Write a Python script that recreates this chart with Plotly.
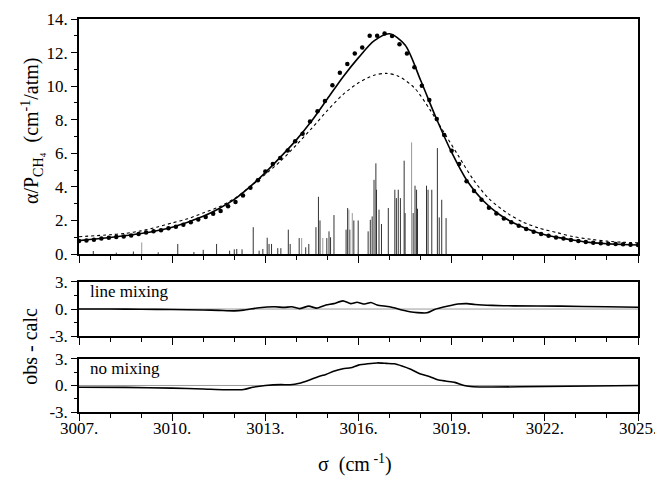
import plotly.graph_objects as go

# ---------------- data ----------------
obs_x = [3007.00, 3007.24, 3007.48, 3007.72, 3007.96, 3008.20, 3008.44, 3008.68, 3008.92, 3009.16,
         3009.40, 3009.64, 3009.88, 3010.12, 3010.36, 3010.60, 3010.84, 3011.08, 3011.32, 3011.56,
         3011.80, 3012.04, 3012.28, 3012.52, 3012.76, 3013.00, 3013.24, 3013.48, 3013.72, 3013.96,
         3014.20, 3014.44, 3014.68, 3014.92, 3015.16, 3015.40, 3015.64, 3015.88, 3016.12, 3016.36,
         3016.60, 3016.84, 3017.08, 3017.32, 3017.56, 3017.80, 3018.04, 3018.28, 3018.52, 3018.76,
         3019.00, 3019.24, 3019.48, 3019.72, 3019.96, 3020.20, 3020.44, 3020.68, 3020.92, 3021.16,
         3021.40, 3021.64, 3021.88, 3022.12, 3022.36, 3022.60, 3022.84, 3023.08, 3023.32, 3023.56,
         3023.80, 3024.04, 3024.28, 3024.52, 3024.76, 3025.00]
obs_y = [0.78, 0.81, 0.85, 0.92, 0.97, 1.01, 1.05, 1.11, 1.19, 1.28,
         1.35, 1.42, 1.53, 1.63, 1.75, 1.89, 2.05, 2.21, 2.40, 2.56,
         2.85, 3.10, 3.48, 3.95, 4.40, 4.92, 5.36, 5.72, 6.17, 6.72,
         7.16, 7.90, 8.50, 9.12, 10.05, 10.80, 11.32, 11.95, 12.30, 13.00,
         13.00, 13.14, 12.98, 12.49, 11.95, 11.12, 10.02, 9.17, 8.05, 7.09,
         6.15, 5.36, 4.33, 3.75, 3.24, 2.76, 2.42, 2.12, 1.89, 1.69,
         1.49, 1.33, 1.19, 1.09, 0.99, 0.93, 0.83, 0.77, 0.71, 0.67,
         0.64, 0.61, 0.60, 0.58, 0.55, 0.54]

mix_x = [3007.0, 3008.0, 3009.0, 3010.0, 3011.0, 3011.5, 3012.0, 3012.5, 3013.0, 3013.5,
         3014.0, 3014.5, 3015.0, 3015.5, 3016.0, 3016.5, 3017.0, 3017.5, 3018.0, 3018.5,
         3019.0, 3019.5, 3020.0, 3020.5, 3021.0, 3021.5, 3022.0, 3022.5, 3023.0, 3023.5,
         3024.0, 3024.5, 3025.0]
mix_y = [0.80, 0.98, 1.22, 1.60, 2.25, 2.70, 3.25, 4.00, 4.85, 5.80,
         6.80, 7.95, 9.25, 10.55, 11.70, 12.70, 13.12, 12.45, 10.35, 8.10,
         6.05, 4.35, 3.20, 2.40, 1.85, 1.45, 1.15, 0.96, 0.80, 0.68,
         0.61, 0.57, 0.54]

nomix_x = [3007.0, 3008.0, 3008.5, 3009.0, 3009.5, 3010.0, 3010.5, 3011.0, 3011.5, 3012.0,
           3012.5, 3013.0, 3013.5, 3014.0, 3014.5, 3015.0, 3015.5, 3016.0, 3016.5, 3016.9,
           3017.3, 3017.8, 3018.3, 3018.8, 3019.2, 3019.7, 3020.2, 3020.8, 3021.3, 3021.8,
           3022.4, 3022.9, 3023.5, 3024.0, 3024.5, 3025.0]
nomix_y = [1.03, 1.15, 1.23, 1.38, 1.60, 1.85, 2.10, 2.45, 2.80, 3.30,
           4.00, 4.75, 5.55, 6.50, 7.50, 8.55, 9.50, 10.20, 10.65, 10.76,
           10.58, 9.90, 8.60, 7.10, 5.90, 4.42, 3.30, 2.42, 1.90, 1.55,
           1.27, 1.04, 0.87, 0.77, 0.70, 0.67]

stick_pos = [3007.46, 3008.20, 3008.75, 3009.55, 3010.18, 3010.70, 3011.00, 3011.43, 3011.85, 3012.00,
             3012.08, 3012.25, 3012.61, 3012.80, 3012.92, 3013.06, 3013.12, 3013.20, 3013.40, 3013.50,
             3013.74, 3013.80, 3014.09, 3014.30, 3014.40, 3014.63, 3014.71, 3014.76, 3014.98, 3015.05,
             3015.10, 3015.21, 3015.60, 3015.65, 3015.72, 3015.85, 3015.99, 3016.31, 3016.38, 3016.44,
             3016.50, 3016.56, 3016.58, 3016.66, 3016.74, 3016.96, 3017.17, 3017.22, 3017.28, 3017.35,
             3017.47, 3017.50, 3017.76, 3017.82, 3017.87, 3017.90, 3018.19, 3018.24, 3018.36, 3018.54,
             3018.60, 3018.68, 3018.82]
stick_int = [0.18, 0.08, 0.15, 0.10, 0.60, 0.12, 0.25, 0.60, 0.20, 0.28,
             0.30, 0.28, 1.60, 0.20, 0.30, 0.97, 0.60, 0.60, 0.35, 0.35,
             1.45, 0.60, 0.95, 0.40, 0.60, 1.60, 3.41, 2.00, 0.95, 1.35,
             1.00, 2.32, 1.45, 2.74, 1.45, 2.00, 2.00, 1.35, 2.04, 2.24,
             4.42, 5.40, 3.83, 2.64, 1.79, 2.74, 3.83, 3.33, 3.83, 3.33,
             5.56, 2.44, 2.44, 4.07, 3.83, 2.70, 4.07, 3.83, 3.83, 6.31,
             2.18, 3.23, 2.14]
gray_pos = [3009.02, 3014.17, 3014.85, 3015.69, 3015.80, 3017.71]
gray_int = [0.69, 0.95, 0.95, 2.64, 2.44, 6.65]

res_mix_x = [3007.0, 3008.0, 3009.0, 3010.0, 3011.0, 3011.5, 3012.0, 3012.3, 3012.8, 3013.3,
             3013.6, 3013.85, 3014.1, 3014.4, 3014.65, 3014.95, 3015.2, 3015.5, 3015.75, 3015.95,
             3016.2, 3016.4, 3016.6, 3017.0, 3017.4, 3017.65, 3017.9, 3018.2, 3018.45, 3018.85,
             3019.2, 3019.5, 3019.75, 3020.3, 3021.0, 3022.5, 3024.0, 3025.0]
res_mix_y = [0.0, 0.0, -0.02, -0.05, -0.10, -0.15, -0.20, -0.12, 0.15, 0.25,
             0.18, 0.25, 0.05, 0.32, 0.10, 0.45, 0.60, 0.90, 0.60, 0.75,
             0.55, 0.72, 0.45, 0.25, -0.10, -0.30, -0.40, -0.42, -0.05, 0.30,
             0.55, 0.60, 0.50, 0.40, 0.35, 0.32, 0.25, 0.20]

res_nomix_x = [3007.0, 3008.5, 3010.0, 3011.0, 3011.7, 3012.3, 3012.6, 3013.0, 3013.5, 3013.8,
               3014.1, 3014.4, 3014.7, 3014.95, 3015.2, 3015.5, 3015.75, 3016.0, 3016.3, 3016.6,
               3016.9, 3017.15, 3017.4, 3017.7, 3018.0, 3018.3, 3018.55, 3018.8, 3019.1, 3019.4,
               3019.7, 3020.3, 3022.0, 3025.0]
res_nomix_y = [-0.20, -0.22, -0.30, -0.40, -0.48, -0.45, -0.20, 0.0, 0.10, 0.08,
               0.25, 0.60, 1.00, 1.25, 1.60, 1.90, 2.00, 2.30, 2.45, 2.55,
               2.50, 2.45, 2.20, 1.80, 1.30, 1.00, 0.65, 0.50, 0.35, 0.0,
               -0.15, -0.18, -0.12, 0.0]

x_ticks = [3007, 3010, 3013, 3016, 3019, 3022, 3025]
x_ticktext = ["3007.", "3010.", "3013.", "3016.", "3019.", "3022.", "3025."]
top_ticks = [0, 2, 4, 6, 8, 10, 12, 14]
top_ticktext = ["0.", "2.", "4.", "6.", "8.", "10.", "12.", "14."]
res_ticks = [-3, 0, 3]
res_ticktext = ["-3.", "0.", "3."]

# ---------------- figure ----------------
FONT = "Liberation Serif"
fig = go.Figure()


def segs(pos, val):
    xs, ys = [], []
    for p, v in zip(pos, val):
        xs += [p, p, None]
        ys += [0, v, None]
    return xs, ys


sx, sy = segs(stick_pos, stick_int)
fig.add_trace(go.Scatter(x=sx, y=sy, mode="lines", line=dict(color="#333333", width=1),
                         xaxis="x", yaxis="y", hoverinfo="skip"))
gx, gy = segs(gray_pos, gray_int)
fig.add_trace(go.Scatter(x=gx, y=gy, mode="lines", line=dict(color="#999999", width=1),
                         xaxis="x", yaxis="y", hoverinfo="skip"))

fig.add_trace(go.Scatter(x=nomix_x, y=nomix_y, mode="lines",
                         line=dict(color="black", width=1.1, dash="dot", shape="spline", smoothing=0.8),
                         xaxis="x", yaxis="y"))
fig.add_trace(go.Scatter(x=mix_x, y=mix_y, mode="lines",
                         line=dict(color="black", width=1.6, shape="spline", smoothing=0.8),
                         xaxis="x", yaxis="y"))
fig.add_trace(go.Scatter(x=obs_x, y=obs_y, mode="markers",
                         marker=dict(color="black", size=4.5),
                         xaxis="x", yaxis="y"))

# residual panels
for ax, ay, rx, ry in [("x2", "y2", res_mix_x, res_mix_y), ("x3", "y3", res_nomix_x, res_nomix_y)]:
    fig.add_trace(go.Scatter(x=[3007, 3025], y=[0, 0], mode="lines",
                             line=dict(color="#9a9a9a", width=1), xaxis=ax, yaxis=ay, hoverinfo="skip"))
    fig.add_trace(go.Scatter(x=rx, y=ry, mode="lines",
                             line=dict(color="black", width=1.6, shape="spline", smoothing=0.6),
                             xaxis=ax, yaxis=ay))

# invisible trace so the label-only axis is drawn
fig.add_trace(go.Scatter(x=res_nomix_x, y=res_nomix_y, mode="lines", line=dict(width=0),
                         opacity=0, xaxis="x4", yaxis="y3", hoverinfo="skip"))

common_x = dict(range=[3007, 3025], showline=True, linecolor="black", linewidth=1.5, mirror=True,
                ticks="outside", ticklen=7, tickwidth=1.2, tickcolor="black",
                tickvals=x_ticks, ticktext=x_ticktext, showgrid=False, zeroline=False,
                ticklabeloverflow="allow", automargin=False, showticklabels=False,
                minor=dict(dtick=1, tick0=3007, ticks="outside", ticklen=4, tickwidth=1, tickcolor="black"),
                tickfont=dict(family=FONT, size=17, color="black"))
common_y = dict(showline=True, linecolor="black", linewidth=1.5, mirror=True,
                ticks="outside", ticklen=6, tickwidth=1.2, tickcolor="black",
                showgrid=False, zeroline=False, automargin=False,
                tickfont=dict(family=FONT, size=17, color="black"))

fig.update_layout(
    width=655, height=477,
    margin=dict(l=79, r=17, t=19, b=65),
    paper_bgcolor="white", plot_bgcolor="white",
    showlegend=False,
    font=dict(family=FONT, color="black"),
    xaxis=dict(common_x, anchor="y"),
    xaxis2=dict(common_x, anchor="y2", matches="x"),
    xaxis3=dict(common_x, anchor="y3", matches="x"),
    # label-only axis drawn over the bottom panel so the labels sit close to the frame
    xaxis4=dict(range=[3007, 3025], overlaying="x3", anchor="y3", side="bottom",
                showline=False, ticks="", showgrid=False, zeroline=False,
                tickvals=x_ticks, ticktext=x_ticktext, showticklabels=True,
                ticklabeloverflow="allow", automargin=False, ticklabelstandoff=4,
                tickfont=dict(family=FONT, size=17, color="black")),
    yaxis=dict(common_y, domain=[0.402, 1.0], range=[0, 14], tickvals=top_ticks, ticktext=top_ticktext,
               minor=dict(dtick=1, ticks="outside", ticklen=3, tickcolor="black"), anchor="x"),
    yaxis2=dict(common_y, domain=[0.193, 0.331], range=[-3, 3], tickvals=res_ticks, ticktext=res_ticktext,
                minor=dict(tickvals=[-1.5, 1.5], ticks="outside", ticklen=3, tickcolor="black"), anchor="x2"),
    yaxis3=dict(common_y, domain=[0.0, 0.135], range=[-3, 3], tickvals=res_ticks, ticktext=res_ticktext,
                minor=dict(tickvals=[-1.5, 1.5], ticks="outside", ticklen=3, tickcolor="black"), anchor="x3"),
    annotations=[
        dict(text="α/P<sub>CH₄</sub>  (cm<sup>-1</sup>/atm)", xref="paper", yref="paper",
             x=-0.084, y=0.715, textangle=-90, showarrow=False,
             font=dict(family=FONT, size=20, color="black"), xanchor="center", yanchor="middle"),
        dict(text="obs - calc", xref="paper", yref="paper", x=-0.088, y=0.168, textangle=-90,
             showarrow=False, font=dict(family=FONT, size=20, color="black"),
             xanchor="center", yanchor="middle"),
        dict(text="σ  (cm<sup> -1</sup>)", xref="paper", yref="paper", x=0.494, y=-0.13,
             showarrow=False, font=dict(family=FONT, size=20, color="black"),
             xanchor="center", yanchor="middle"),
        dict(text="line mixing", xref="paper", yref="paper", x=0.016, y=0.306, showarrow=False,
             font=dict(family=FONT, size=17, color="black"), xanchor="left", yanchor="middle"),
        dict(text="no mixing", xref="paper", yref="paper", x=0.016, y=0.110, showarrow=False,
             font=dict(family=FONT, size=17, color="black"), xanchor="left", yanchor="middle"),
    ],
)

fig.write_html("out.html")
